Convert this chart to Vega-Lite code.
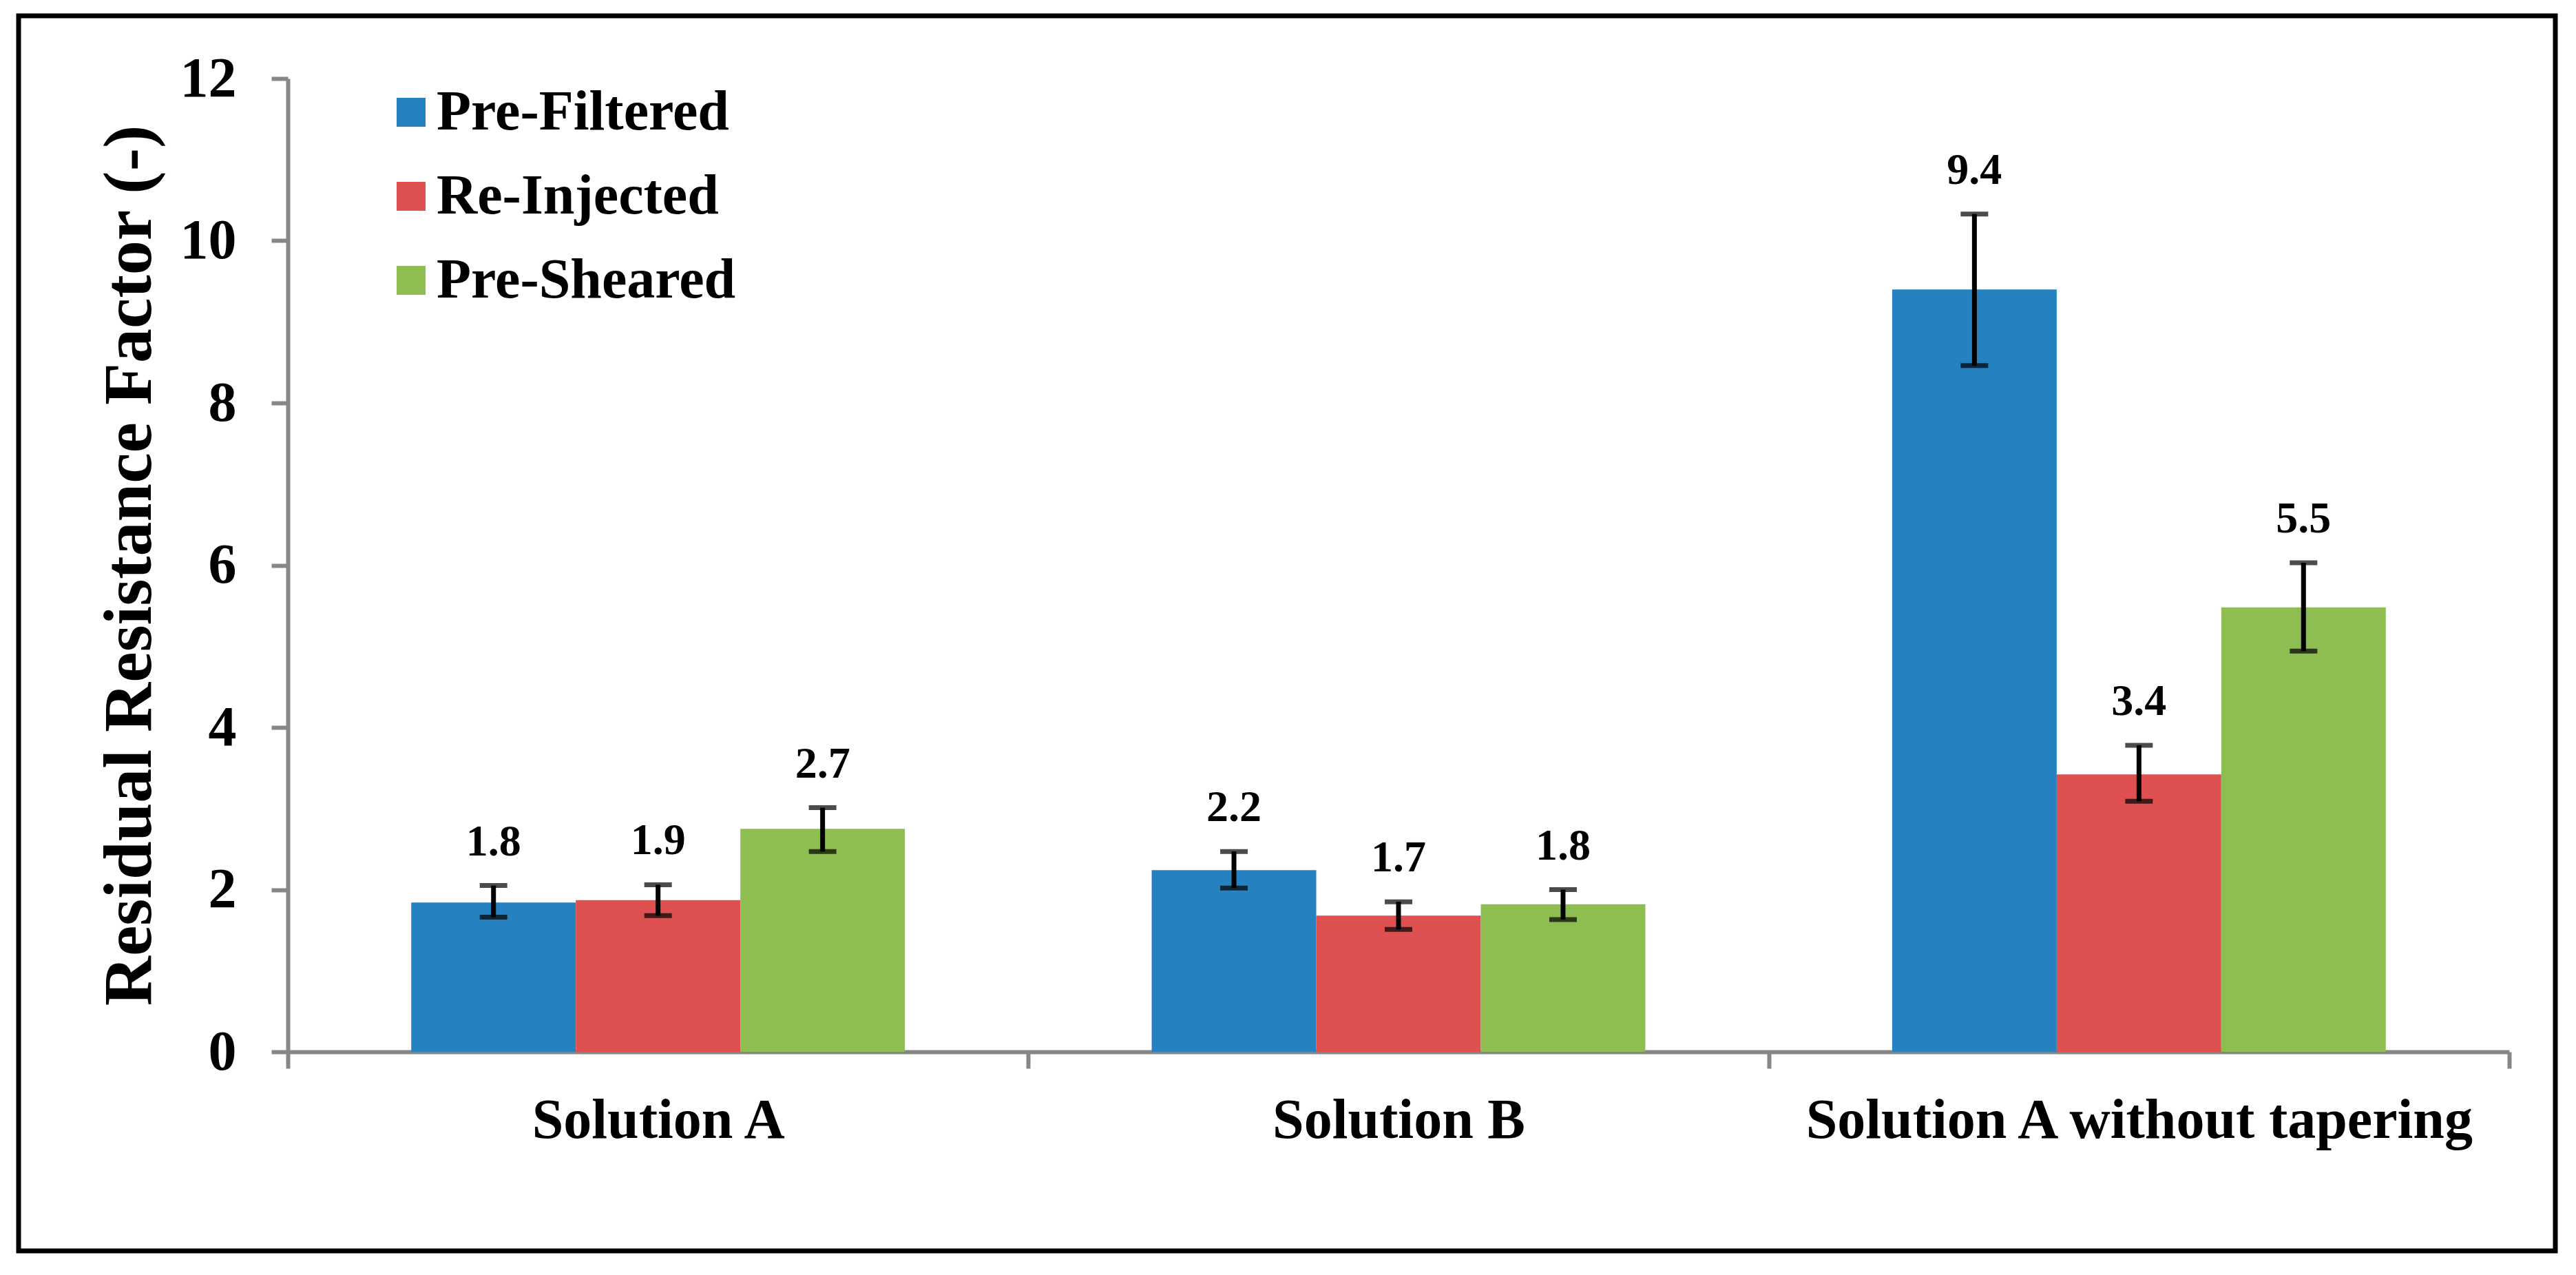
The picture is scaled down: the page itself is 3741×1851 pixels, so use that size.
{
  "$schema": "https://vega.github.io/schema/vega-lite/v6.json",
  "width": 3684,
  "height": 1793,
  "autosize": {"type": "none"},
  "padding": {"left": 27, "top": 23, "right": 30, "bottom": 35},
  "background": "white",
  "data": {
    "values": [
      {"solution": "Solution A", "series": "Pre-Filtered", "value": 1.84, "lo": 1.66, "hi": 2.05, "label": "1.8"},
      {"solution": "Solution A", "series": "Re-Injected", "value": 1.87, "lo": 1.68, "hi": 2.06, "label": "1.9"},
      {"solution": "Solution A", "series": "Pre-Sheared", "value": 2.75, "lo": 2.47, "hi": 3.01, "label": "2.7"},
      {"solution": "Solution B", "series": "Pre-Filtered", "value": 2.24, "lo": 2.02, "hi": 2.47, "label": "2.2"},
      {"solution": "Solution B", "series": "Re-Injected", "value": 1.68, "lo": 1.51, "hi": 1.85, "label": "1.7"},
      {"solution": "Solution B", "series": "Pre-Sheared", "value": 1.82, "lo": 1.63, "hi": 2.0, "label": "1.8"},
      {"solution": "Solution A without tapering", "series": "Pre-Filtered", "value": 9.4, "lo": 8.46, "hi": 10.33, "label": "9.4"},
      {"solution": "Solution A without tapering", "series": "Re-Injected", "value": 3.42, "lo": 3.09, "hi": 3.78, "label": "3.4"},
      {"solution": "Solution A without tapering", "series": "Pre-Sheared", "value": 5.48, "lo": 4.94, "hi": 6.03, "label": "5.5"}
    ]
  },
  "encoding": {
    "x": {
      "field": "solution",
      "type": "nominal",
      "sort": null,
      "scale": {"range": [391, 3617], "paddingInner": 0, "paddingOuter": 0},
      "axis": {
        "title": null,
        "orient": "bottom",
        "offset": -289,
        "tickBand": "extent",
        "domainColor": "#868686",
        "domainWidth": 6,
        "tickColor": "#868686",
        "tickWidth": 6,
        "tickSize": 24,
        "labelFont": "Liberation Serif",
        "labelFontWeight": "bold",
        "labelFontSize": 82,
        "labelColor": "black",
        "labelPadding": 35,
        "labelAngle": 0,
        "labelLimit": 0,
        "grid": false
      }
    },
    "xOffset": {
      "field": "series",
      "type": "nominal",
      "sort": ["Pre-Filtered", "Re-Injected", "Pre-Sheared"],
      "scale": {"paddingOuter": 0.75, "paddingInner": 0}
    }
  },
  "layer": [
    {
      "mark": {"type": "bar"},
      "encoding": {
        "y": {
          "field": "value",
          "type": "quantitative",
          "title": "Residual Resistance Factor (-)",
          "scale": {"domain": [0, 12], "range": [1504, 91], "nice": false, "zero": true},
          "axis": {
            "orient": "left",
            "values": [0, 2, 4, 6, 8, 10, 12],
            "format": "d",
            "offset": -391,
            "domainColor": "#868686",
            "domainWidth": 6,
            "tickColor": "#868686",
            "tickWidth": 6,
            "tickSize": 24,
            "labelFont": "Liberation Serif",
            "labelFontWeight": "bold",
            "labelFontSize": 82,
            "labelColor": "black",
            "labelPadding": 51,
            "grid": false,
            "titleFont": "Liberation Serif",
            "titleFontWeight": "bold",
            "titleFontSize": 100,
            "titleColor": "black",
            "titleX": -200,
            "titleY": 797.5,
            "titleAngle": 270,
            "titleBaseline": "alphabetic",
            "titleAlign": "center",
            "titleLimit": 0
          }
        },
        "color": {
          "field": "series",
          "type": "nominal",
          "sort": ["Pre-Filtered", "Re-Injected", "Pre-Sheared"],
          "scale": {
            "domain": ["Pre-Filtered", "Re-Injected", "Pre-Sheared"],
            "range": ["#2581C0", "#DE5150", "#8EBD51"]
          },
          "legend": {
            "title": null,
            "orient": "none",
            "legendX": 529,
            "legendY": 99,
            "padding": 0,
            "symbolType": "square",
            "symbolSize": 1764,
            "symbolStrokeWidth": 0,
            "labelFont": "Liberation Serif",
            "labelFontWeight": "bold",
            "labelFontSize": 82,
            "labelColor": "black",
            "labelOffset": -4,
            "labelLimit": 0,
            "rowPadding": 40
          }
        }
      }
    },
    {
      "mark": {"type": "rule", "color": "black", "strokeWidth": 7},
      "encoding": {
        "y": {"field": "lo", "type": "quantitative", "title": "Residual Resistance Factor (-)"},
        "y2": {"field": "hi"}
      }
    },
    {
      "mark": {"type": "tick", "color": "black", "thickness": 7, "size": 40},
      "encoding": {
        "y": {"field": "lo", "type": "quantitative", "title": "Residual Resistance Factor (-)"}
      }
    },
    {
      "mark": {"type": "tick", "color": "black", "thickness": 7, "size": 40},
      "encoding": {
        "y": {"field": "hi", "type": "quantitative", "title": "Residual Resistance Factor (-)"}
      }
    },
    {
      "mark": {
        "type": "text",
        "font": "Liberation Serif",
        "fontWeight": "bold",
        "fontSize": 64,
        "color": "black",
        "align": "center",
        "baseline": "alphabetic",
        "dy": -44
      },
      "encoding": {
        "y": {"field": "hi", "type": "quantitative", "title": "Residual Resistance Factor (-)"},
        "text": {"field": "label", "type": "nominal"}
      }
    }
  ],
  "config": {
    "view": {"stroke": "black", "strokeWidth": 7},
    "font": "Liberation Serif"
  }
}
